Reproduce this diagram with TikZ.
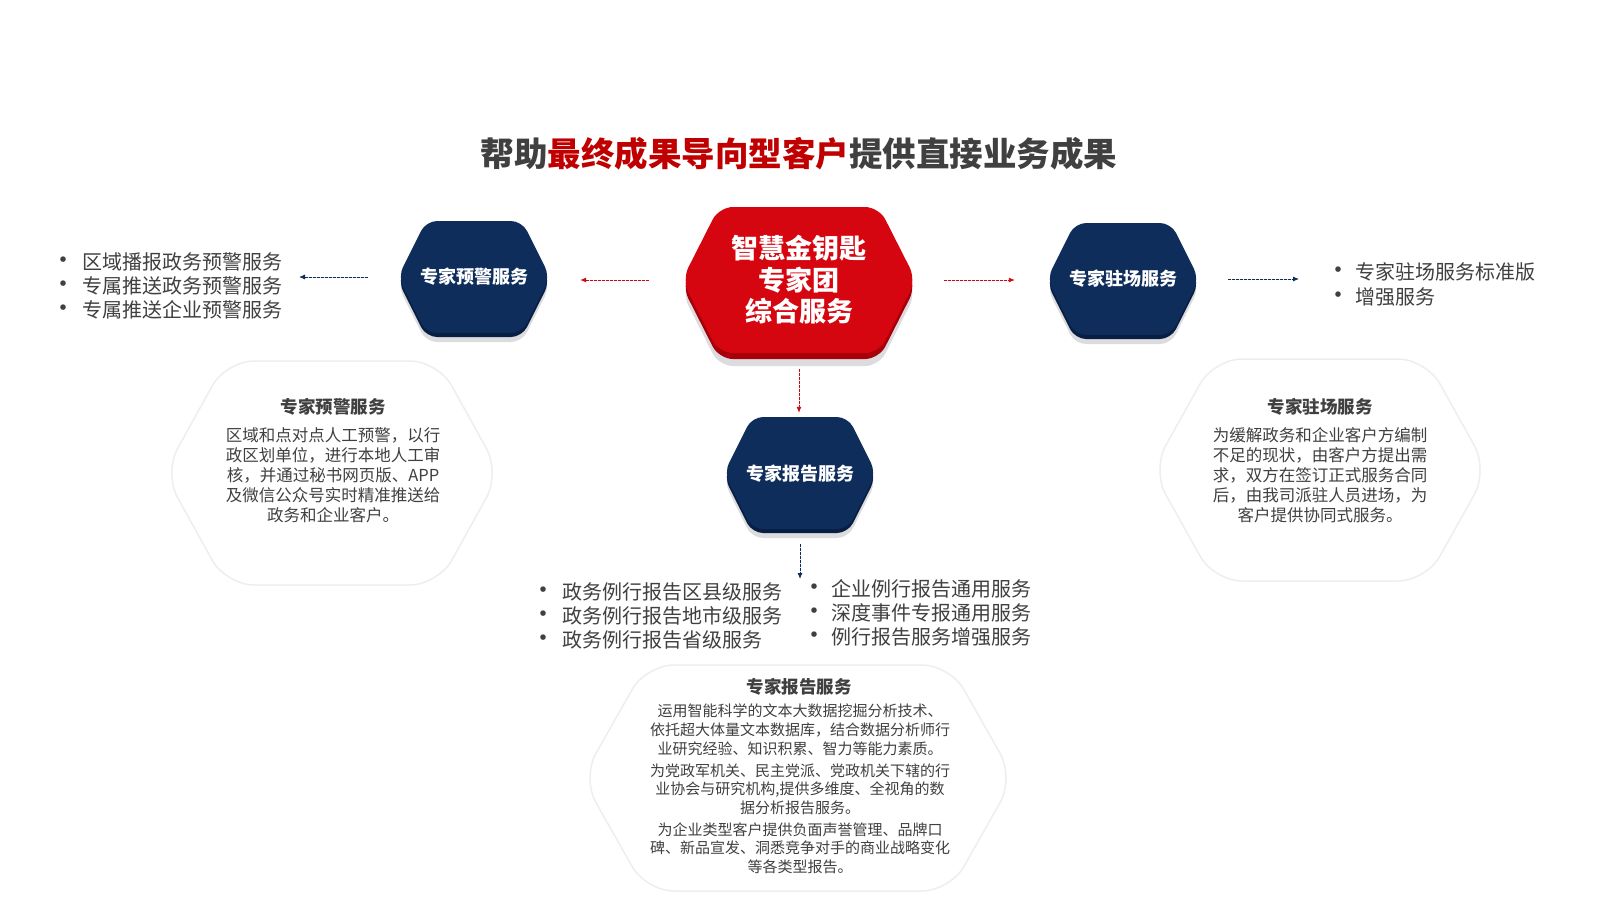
\documentclass[tikz,border=0pt]{standalone}
\usepackage{fontspec}
\setmainfont{Noto Sans CJK SC}
\usetikzlibrary{arrows.meta}
\definecolor{navy}{RGB}{14,45,91}
\definecolor{navydark}{RGB}{8,30,66}
\definecolor{hexred}{RGB}{214,6,16}
\definecolor{hexreddark}{RGB}{168,0,10}
\definecolor{arrred}{RGB}{200,10,20}
\definecolor{txtgray}{RGB}{64,64,64}
\definecolor{titlered}{RGB}{192,0,0}
\definecolor{shadowgray}{RGB}{220,220,222}
\definecolor{outlinegray}{RGB}{238,238,240}
% hexagon path: centre x, centre y, half width, half height, inset of top edge
\newcommand\hexpath[5]{({#1},{#2-#4}) -- ({#1+#3-#5},{#2-#4}) -- ({#1+#3},{#2}) -- ({#1+#3-#5},{#2+#4}) -- ({#1-#3+#5},{#2+#4}) -- ({#1-#3},{#2}) -- ({#1-#3+#5},{#2-#4}) -- cycle}
\tikzset{
  hexlabel/.style={inner sep=0pt, text=white, align=center, font=\bfseries\fontsize{18}{22}\selectfont},
  listtext/.style={anchor=west, inner sep=0pt, align=left, text=txtgray, font=\fontsize{20}{24}\selectfont},
  desctitle/.style={inner sep=0pt, text=txtgray, font=\bfseries\fontsize{17.5}{21}\selectfont},
  descbody/.style={inner sep=0pt, align=center, text=txtgray, font=\fontsize{16.5}{20}\selectfont},
  arrbase/.style={line width=0.9pt, dash pattern=on 2.5pt off 1.5pt, -{Latex[length=6pt,width=5pt]}},
  redarr/.style={arrbase, draw=arrred, fill=arrred},
  bluearr/.style={arrbase, draw=navy, fill=navy},
  descframe/.style={draw=outlinegray, line width=1.5pt, rounded corners=28pt},
}
\newcommand\bl{\makebox[0pt]{\fontsize{26}{24}\selectfont•}\hspace{19pt}}
\newcommand\blr{\makebox[0pt]{\fontsize{26}{24}\selectfont•}\hspace{17pt}}
\begin{document}
\begin{tikzpicture}[x=1pt,y=-1pt]
\useasboundingbox (0,0) rectangle (1600,900);
\fill[white] (0,0) rectangle (1600,900);

% title
\node[inner sep=0pt, font=\bfseries\fontsize{33.5}{40}\selectfont] (title) at (799,154)
  {\textcolor{txtgray}{帮助}\textcolor{titlered}{最终成果导向型客户}\textcolor{txtgray}{提供直接业务成果}};

% description frames
\draw[descframe] \hexpath{332}{473}{168}{112}{62};
\draw[descframe] \hexpath{1320}{470}{168}{111}{62};
\draw[descframe] \hexpath{798}{778}{216}{113}{64};

% centre red hexagon
\fill[shadowgray, rounded corners=14pt] \hexpath{799}{293}{117}{73}{37};
\fill[hexreddark, rounded corners=14pt] \hexpath{799}{286}{117}{73}{37};
\fill[hexred, rounded corners=14pt] \hexpath{799}{280}{117}{73}{37};
\node[minimum width=234pt, minimum height=146pt, inner sep=0pt, text=white, align=center,
      font=\bfseries\fontsize{27}{31.5}\selectfont] (core) at (799,280) {智慧金钥匙\\专家团\\综合服务};

% blue hexagons
\foreach \cx/\cy in {474/277, 1123/279, 800/473}{
  \fill[shadowgray, rounded corners=11pt] \hexpath{\cx}{\cy+9}{76}{56}{28};
  \fill[navydark, rounded corners=11pt] \hexpath{\cx}{\cy+4}{76}{56}{28};
  \fill[navy, rounded corners=11pt] \hexpath{\cx}{\cy}{76}{56}{28};
}
\node[hexlabel, minimum width=152pt, minimum height=112pt] (warn) at (474,277) {专家预警服务};
\node[hexlabel, minimum width=152pt, minimum height=112pt] (field) at (1123,279) {专家驻场服务};
\node[hexlabel, minimum width=152pt, minimum height=112pt] (report) at (800,474) {专家报告服务};

% bullet lists
\node[listtext] (warnlist) at (63,286) {\bl 区域播报政务预警服务\\\bl 专属推送政务预警服务\\\bl 专属推送企业预警服务};
\node[listtext, font=\fontsize{20}{24.5}\selectfont] (fieldlist) at (1338,284.5) {\blr 专家驻场服务标准版\\\blr 增强服务};
\node[listtext] (replistA) at (543,616) {\bl 政务例行报告区县级服务\\\bl 政务例行报告地市级服务\\\bl 政务例行报告省级服务};
\node[listtext] (replistB) at (814,613) {\blr 企业例行报告通用服务\\\blr 深度事件专报通用服务\\\blr 例行报告服务增强服务};

% arrow end points
\coordinate (warnend) at (299,277);
\coordinate (fieldend) at (1299,279);
\coordinate (repend) at (800,579);

% connectors
\draw[redarr, shorten <=33pt, shorten >=30pt] (core.west) -- (core.west -| warn.east);
\draw[bluearr, shorten <=30pt] (warn.west) -- (warnend);
\draw[redarr, shorten <=28pt, shorten >=32pt] (core.east) -- (core.east -| field.west);
\draw[bluearr, shorten <=29pt] (field.east) -- (fieldend);
\draw[redarr, shorten <=16pt, shorten >=5pt] (core.south) -- (core.south |- report.north);
\draw[bluearr, shorten <=14pt] (report.south) -- (repend);

% descriptions
\node[desctitle] (warnT) at (333,407) {专家预警服务};
\node[descbody] (warnB) at (333,475) {区域和点对点人工预警，以行\\政区划单位，进行本地人工审\\核，并通过秘书网页版、APP\\及微信公众号实时精准推送给\\政务和企业客户。};
\node[desctitle] (fieldT) at (1320,407) {专家驻场服务};
\node[descbody] (fieldB) at (1320,475) {为缓解政务和企业客户方编制\\不足的现状，由客户方提出需\\求，双方在签订正式服务合同\\后，由我司派驻人员进场，为\\客户提供协同式服务。};
\node[desctitle] (repT) at (799,687) {专家报告服务};
\node[descbody, font=\fontsize{15}{18.7}\selectfont] (repB) at (800,789) {运用智能科学的文本大数据挖掘分析技术、\\依托超大体量文本数据库，结合数据分析师行\\业研究经验、知识积累、智力等能力素质。\\[3pt]为党政军机关、民主党派、党政机关下辖的行\\业协会与研究机构,提供多维度、全视角的数\\据分析报告服务。\\[3pt]为企业类型客户提供负面声誉管理、品牌口\\碑、新品宣发、洞悉竞争对手的商业战略变化\\等各类型报告。};
\end{tikzpicture}
\end{document}
